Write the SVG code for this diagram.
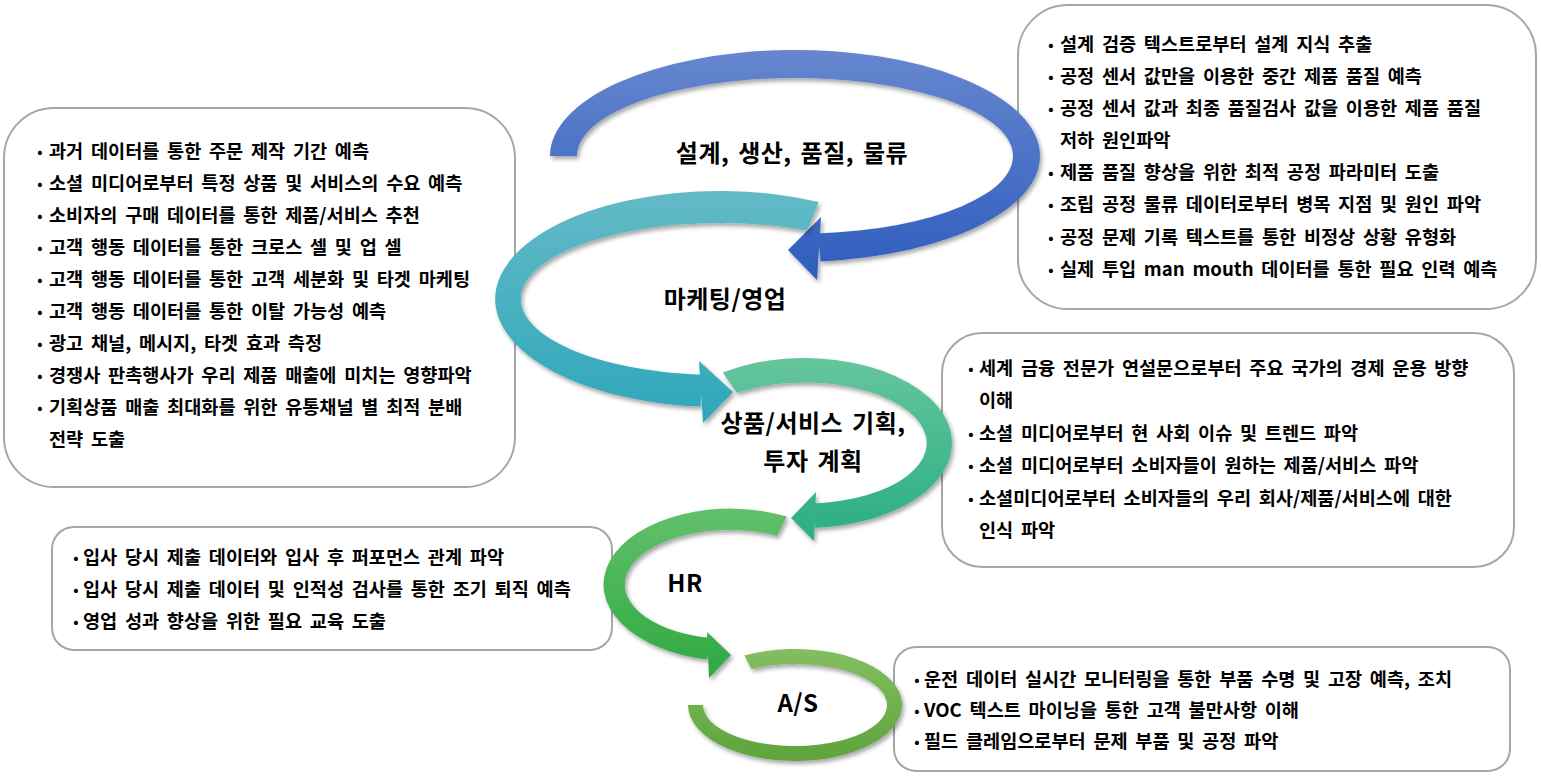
<svg xmlns="http://www.w3.org/2000/svg" width="1541" height="779" viewBox="0 0 1541 779">
<defs>
<style>
.box{fill:#fff;stroke:#a6a6a6;stroke-width:2}
.t{font-family:"Noto Sans CJK KR","Noto Sans",sans-serif;font-size:18.6px;font-weight:700;fill:#000;word-spacing:3.5px}
.b{font-family:"Noto Sans CJK KR","Noto Sans",sans-serif;font-size:14px;font-weight:700;fill:#000;text-anchor:middle}
.lbl{font-family:"Noto Sans CJK KR","Noto Sans",sans-serif;font-size:24px;font-weight:700;fill:#000;text-anchor:middle;word-spacing:3px;letter-spacing:0.5px}
</style>
<filter id="sh" x="-10%" y="-10%" width="125%" height="130%">
<feDropShadow dx="2" dy="3" stdDeviation="2" flood-color="#000" flood-opacity="0.35"/>
</filter>
<linearGradient id="gBlue" gradientUnits="userSpaceOnUse" x1="0" y1="50" x2="0" y2="280"><stop offset="0" stop-color="#6786cf"/><stop offset="1" stop-color="#2e5dbd"/></linearGradient>
<linearGradient id="gTeal" gradientUnits="userSpaceOnUse" x1="0" y1="192" x2="0" y2="420"><stop offset="0" stop-color="#63bac6"/><stop offset="1" stop-color="#2fa7bb"/></linearGradient>
<linearGradient id="gSea" gradientUnits="userSpaceOnUse" x1="0" y1="358" x2="0" y2="540"><stop offset="0" stop-color="#65c59d"/><stop offset="1" stop-color="#2bae82"/></linearGradient>
<linearGradient id="gHR" gradientUnits="userSpaceOnUse" x1="0" y1="508" x2="0" y2="678"><stop offset="0" stop-color="#62c06a"/><stop offset="1" stop-color="#2ea941"/></linearGradient>
<linearGradient id="gAS" gradientUnits="userSpaceOnUse" x1="0" y1="648" x2="0" y2="761"><stop offset="0" stop-color="#84bf62"/><stop offset="1" stop-color="#5ea33b"/></linearGradient>
</defs>
<rect width="1541" height="779" fill="#fff"/>

<g id="box-design">
<rect class="box" x="1018" y="5" width="518" height="304" rx="50"/>
<text class="b" x="1051" y="50">•</text><text class="t" x="1060" y="51">설계 검증 텍스트로부터 설계 지식 추출</text>
<text class="b" x="1051" y="82">•</text><text class="t" x="1060" y="83">공정 센서 값만을 이용한 중간 제품 품질 예측</text>
<text class="b" x="1051" y="114">•</text><text class="t" x="1060" y="115">공정 센서 값과 최종 품질검사 값을 이용한 제품 품질</text>
<text class="t" x="1060" y="147">저하 원인파악</text>
<text class="b" x="1051" y="178">•</text><text class="t" x="1060" y="179">제품 품질 향상을 위한 최적 공정 파라미터 도출</text>
<text class="b" x="1051" y="210">•</text><text class="t" x="1060" y="211">조립 공정 물류 데이터로부터 병목 지점 및 원인 파악</text>
<text class="b" x="1051" y="243">•</text><text class="t" x="1060" y="244">공정 문제 기록 텍스트를 통한 비정상 상황 유형화</text>
<text class="b" x="1051" y="275">•</text><text class="t" x="1060" y="276">실제 투입 man mouth 데이터를 통한 필요 인력 예측</text>
</g>

<g id="box-marketing">
<rect class="box" x="4" y="108" width="511" height="379" rx="50"/>
<text class="b" x="40" y="157">•</text><text class="t" x="49" y="158">과거 데이터를 통한 주문 제작 기간 예측</text>
<text class="b" x="40" y="189">•</text><text class="t" x="49" y="190">소셜 미디어로부터 특정 상품 및 서비스의 수요 예측</text>
<text class="b" x="40" y="221">•</text><text class="t" x="49" y="222">소비자의 구매 데이터를 통한 제품/서비스 추천</text>
<text class="b" x="40" y="253">•</text><text class="t" x="49" y="254">고객 행동 데이터를 통한 크로스 셀 및 업 셀</text>
<text class="b" x="40" y="285">•</text><text class="t" x="49" y="286">고객 행동 데이터를 통한 고객 세분화 및 타겟 마케팅</text>
<text class="b" x="40" y="317">•</text><text class="t" x="49" y="318">고객 행동 데이터를 통한 이탈 가능성 예측</text>
<text class="b" x="40" y="349">•</text><text class="t" x="49" y="350">광고 채널, 메시지, 타겟 효과 측정</text>
<text class="b" x="40" y="381">•</text><text class="t" x="49" y="382">경쟁사 판촉행사가 우리 제품 매출에 미치는 영향파악</text>
<text class="b" x="40" y="413">•</text><text class="t" x="49" y="414">기획상품 매출 최대화를 위한 유통채널 별 최적 분배</text>
<text class="t" x="49" y="446">전략 도출</text>
</g>

<g id="box-planning">
<rect class="box" x="942" y="333" width="572" height="234" rx="40"/>
<text class="b" x="971" y="374">•</text><text class="t" x="979" y="375">세계 금융 전문가 연설문으로부터 주요 국가의 경제 운용 방향</text>
<text class="t" x="979" y="407">이해</text>
<text class="b" x="971" y="439">•</text><text class="t" x="979" y="440">소셜 미디어로부터 현 사회 이슈 및 트렌드 파악</text>
<text class="b" x="971" y="471">•</text><text class="t" x="979" y="472">소셜 미디어로부터 소비자들이 원하는 제품/서비스 파악</text>
<text class="b" x="971" y="504">•</text><text class="t" x="979" y="505">소셜미디어로부터 소비자들의 우리 회사/제품/서비스에 대한</text>
<text class="t" x="979" y="537">인식 파악</text>
</g>

<g id="box-hr">
<rect class="box" x="52" y="527" width="560" height="123" rx="22"/>
<text class="b" x="76" y="563">•</text><text class="t" x="83" y="564">입사 당시 제출 데이터와 입사 후 퍼포먼스 관계 파악</text>
<text class="b" x="76" y="595">•</text><text class="t" x="83" y="596">입사 당시 제출 데이터 및 인적성 검사를 통한 조기 퇴직 예측</text>
<text class="b" x="76" y="627">•</text><text class="t" x="83" y="628">영업 성과 향상을 위한 필요 교육 도출</text>
</g>

<g id="box-as">
<rect class="box" x="894" y="647" width="616" height="124" rx="22"/>
<text class="b" x="917" y="685">•</text><text class="t" x="924" y="686">운전 데이터 실시간 모니터링을 통한 부품 수명 및 고장 예측, 조치</text>
<text class="b" x="917" y="716">•</text><text class="t" x="924" y="717">VOC 텍스트 마이닝을 통한 고객 불만사항 이해</text>
<text class="b" x="917" y="747">•</text><text class="t" x="924" y="748">필드 클레임으로부터 문제 부품 및 공정 파악</text>
</g>

<g id="connectors">
<g fill="url(#gBlue)" filter="url(#sh)">
<path d="M550,156 A245,106 0 1 1 820.6,261.4 L817.8,233.6 A218,78 0 1 0 577,156 Z"/>
<polygon points="821,217 817,280 788,250"/>
</g>
<g fill="url(#gTeal)" filter="url(#sh)">
<path d="M818.6,201.9 A225,108 0 1 0 700.4,406.6 L702.7,374.7 A199,76 0 1 1 807.2,230.7 Z"/>
<polygon points="699,361 703,423 733,392"/>
</g>
<g fill="url(#gSea)" filter="url(#sh)">
<path d="M722.8,372.5 A147,85 0 1 1 815.3,527.8 L813.5,503.4 A122,60.5 0 1 0 736.8,392.8 Z"/>
<polygon points="816,492 814,541 791,518"/>
</g>
<g fill="url(#gHR)" filter="url(#sh)">
<path d="M786.9,516.5 A127,76 0 1 0 707.1,659.3 L711,638.1 A105,54.5 0 1 1 777,535.8 Z"/>
<polygon points="707,632 709,678 731,655"/>
</g>
<g fill="url(#gAS)" filter="url(#sh)">
<path d="M744.4,655.6 A107,56 0 1 1 688,705 L703,705 A92,41 0 1 0 751.5,668.9 Z"/>
</g>
</g>

<g id="stage-design"><text class="lbl" x="792" y="162">설계, 생산, 품질, 물류</text></g>
<g id="stage-marketing"><text class="lbl" x="725" y="308">마케팅/영업</text></g>
<g id="stage-planning"><text class="lbl" x="813" y="432">상품/서비스 기획,</text><text class="lbl" x="813" y="470">투자 계획</text></g>
<g id="stage-hr"><text class="lbl" x="685" y="592">HR</text></g>
<g id="stage-as"><text class="lbl" x="798" y="712">A/S</text></g>
</svg>
